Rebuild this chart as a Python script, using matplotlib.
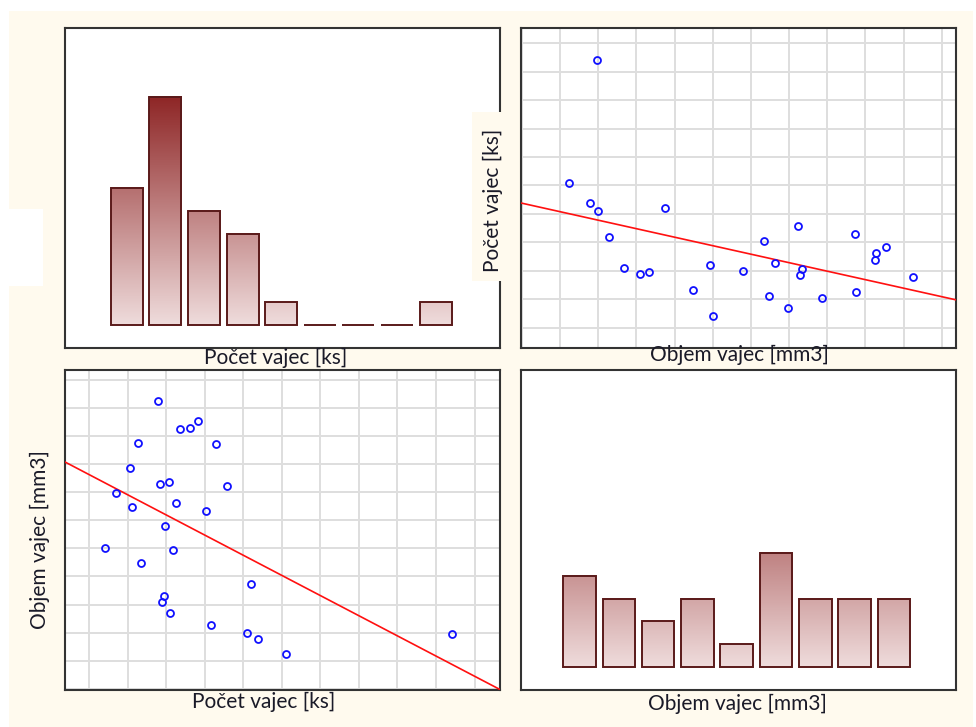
import numpy as np
import matplotlib
matplotlib.use("Agg")
import matplotlib.pyplot as plt
from matplotlib.patches import Rectangle
from matplotlib.colors import LinearSegmentedColormap
from matplotlib.ticker import MultipleLocator

# ---------------- data ----------------
pocet = [104.1, 61.0, 53.8, 50.9, 41.7, 52.0, 31.1, 28.9, 29.5, 31.9, 23.4, 14.1,
         29.8, 40.4, 45.8, 32.6, 21.1, 17.0, 30.7, 28.5, 20.6, 43.0, 22.6, 36.2,
         33.7, 38.4, 27.8]
objem = [1.096, 1.024, 1.079, 1.100, 1.128, 1.274, 1.169, 1.209, 1.232, 1.394,
         1.348, 1.400, 1.480, 1.534, 1.622, 1.563, 1.548, 1.597, 1.635, 1.628,
         1.687, 1.772, 1.775, 1.828, 1.824, 1.855, 1.925]
hist_pocet = [6, 10, 5, 4, 1, 0, 0, 0, 1]
hist_objem = [4, 3, 2, 3, 1, 5, 3, 3, 3]
label_pocet = "Počet vajec [ks]"
label_objem = "Objem vajec [mm3]"

pocet = np.array(pocet)
objem = np.array(objem)

W, H = 976, 727
CREAM = "#fffaee"
TXT = "#1a1a28"
plt.rcParams['font.family'] = ['Lato', 'DejaVu Sans']

fig = plt.figure(figsize=(W / 100, H / 100), dpi=100, facecolor="white")
fig.patches.append(Rectangle((9 / W, 0), (973 - 9) / W, 1 - 11 / H,
                             transform=fig.transFigure, facecolor=CREAM,
                             edgecolor="none", zorder=-10))
# white artifact on the left
fig.patches.append(Rectangle((9 / W, 1 - 286 / H), 34 / W, 77 / H,
                             transform=fig.transFigure, facecolor="white",
                             edgecolor="none", zorder=-9))


def px_axes(l, t, r, b):
    return fig.add_axes([l / W, 1 - b / H, (r - l) / W, (b - t) / H])


def style(ax):
    for s in ax.spines.values():
        s.set_color("#333333")
        s.set_linewidth(1.5)
    ax.tick_params(length=0, labelbottom=False, labelleft=False)
    ax.set_facecolor("white")


cmap = LinearSegmentedColormap.from_list("g", ["#efdcdc", "#8e2626"])


def hist_panel(ax, counts, xlim):
    style(ax)
    xs = np.arange(len(counts))
    w = 0.83
    ax.bar(xs, counts, width=w, facecolor="none", edgecolor="#5a1a1a",
           linewidth=1.4, zorder=3)
    for x, h in zip(xs, counts):
        if h > 0:
            grad = np.linspace(0, h, 200).reshape(-1, 1)
            ax.imshow(grad, extent=(x - w / 2, x + w / 2, 0, h), origin="lower",
                      cmap=cmap, vmin=0, vmax=10, aspect="auto", zorder=2,
                      interpolation="bilinear")
    ax.set_xlim(*xlim)
    ax.set_ylim(-1, 13)
    ax.set_xticks([])
    ax.set_yticks([])


def scatter_panel(ax, x, y, xlim, ylim, xstep, ystep):
    style(ax)
    ax.xaxis.set_major_locator(MultipleLocator(xstep))
    ax.yaxis.set_major_locator(MultipleLocator(ystep))
    ax.grid(True, color="#dedede", linewidth=1.4, zorder=0)
    ax.set_axisbelow(True)
    ax.plot(x, y, linestyle="none", marker="o", markersize=5,
            markerfacecolor="none", markeredgecolor="#1010ff",
            markeredgewidth=1.3, zorder=4)
    k, q = np.polyfit(x, y, 1)
    xx = np.array(xlim)
    ax.plot(xx, k * xx + q, color="#ff1010", linewidth=1.2, zorder=3,
            clip_on=True)
    ax.set_xlim(*xlim)
    ax.set_ylim(*ylim)


ax_tl = px_axes(65, 28, 500, 348)
ax_tr = px_axes(521, 28, 956, 348)
ax_bl = px_axes(65, 370, 500, 690)
ax_br = px_axes(521, 370, 956, 690)

hist_panel(ax_tl, hist_pocet, (-1.6, 9.67))
hist_panel(ax_br, hist_objem, (-1.49, 9.58))
scatter_panel(ax_tr, objem, pocet, (0.898, 2.037), (2.85, 115.35), 0.1, 10)
scatter_panel(ax_bl, pocet, objem, (3.78, 116.6), (0.896, 2.035), 10, 0.1)

fs = 15


def ftext(x, y, s, rot=0, **kw):
    fig.text(x / W, 1 - y / H, s, ha="center", va="center", rotation=rot,
             fontsize=fs, color=TXT, **kw)


ftext(275.5, 358, label_pocet)
ftext(739.5, 355, label_objem)
ftext(263.5, 702, label_pocet)
ftext(737.5, 704, label_objem)

# cream box behind the rotated label of the top-right panel
fig.patches.append(Rectangle((472 / W, 1 - 281 / H), 38 / W, 169 / H,
                             transform=fig.transFigure, facecolor=CREAM,
                             edgecolor="none", zorder=1))
ftext(493, 200, label_pocet, rot=90)
ftext(40, 539.5, label_objem, rot=90)

fig.savefig("out.png", dpi=100, facecolor=fig.get_facecolor())
